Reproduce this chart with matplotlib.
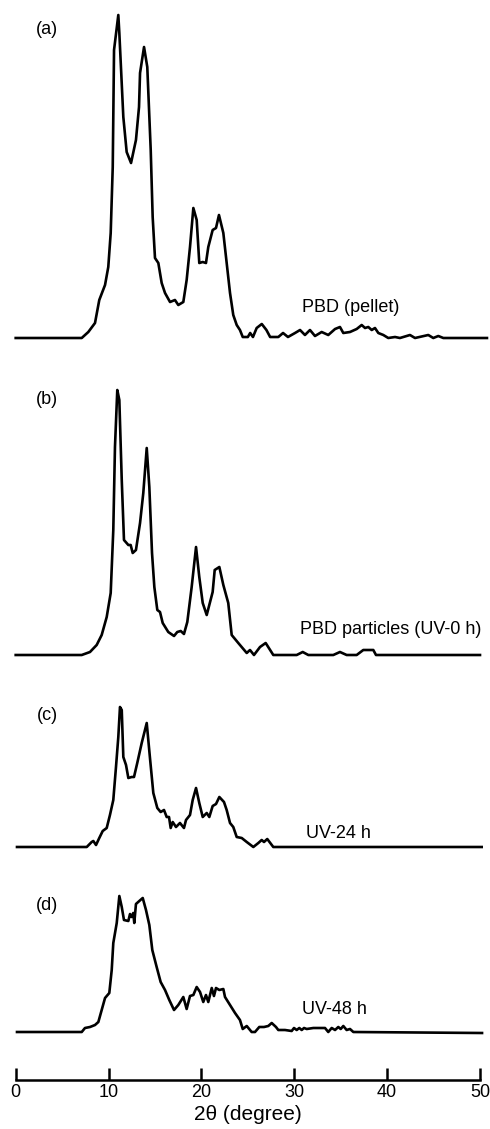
import matplotlib
matplotlib.use('Agg')
import matplotlib.pyplot as plt
import numpy as np

plt.rcParams['font.family'] = ['Liberation Sans', 'DejaVu Sans']

# XRD patterns, 2theta (degree) vs intensity (arbitrary units)
a_tt = [0.0, 7.11, 7.82, 8.54, 9.00, 9.62, 9.97, 10.23, 10.45, 10.59, 11.05, 11.16, 11.59, 11.95,
        12.42, 12.95, 13.28, 13.39, 13.82, 14.17, 14.54, 14.75, 15.00, 15.36, 15.72, 16.08, 16.62,
        17.15, 17.51, 18.05, 18.41, 18.77, 19.13, 19.49, 19.77, 20.14, 20.49, 20.74, 21.21, 21.57,
        21.89, 22.36, 22.72, 23.08, 23.43, 23.80, 24.15, 24.45, 25.00, 25.25, 25.55, 25.95, 26.50,
        27.00, 27.40, 28.28, 28.79, 29.32, 30.08, 30.62, 31.15, 31.69, 32.23, 32.95, 33.66, 34.39,
        34.92, 35.28, 36.00, 36.72, 37.26, 37.62, 37.97, 38.34, 38.69, 39.05, 39.59, 40.12, 40.85,
        41.38, 42.46, 43.00, 44.43, 44.97, 45.51, 46.05, 50.75]
a_int = [0, 0, 6, 15, 38, 53, 71, 105, 171, 288, 323, 305, 221, 186,
         175, 198, 231, 265, 291, 271, 188, 121, 80, 75, 55, 45, 36,
         38, 33, 36, 58, 91, 130, 118, 75, 76, 75, 91, 108, 110,
         123, 105, 75, 45, 23, 13, 8, 1, 1, 5, 1, 10, 14,
         8, 1, 1, 5, 1, 5, 8, 3, 8, 2, 6, 3, 9,
         11, 5, 6, 9, 13, 10, 11, 8, 10, 5, 3, 0, 1,
         0, 3, 0, 3, 0, 2, 0, 0]

b_tt = [0.0, 7.11, 8.00, 8.72, 9.26, 9.80, 10.23, 10.51, 10.69, 10.94, 11.16, 11.42, 11.66, 12.13,
        12.38, 12.60, 12.95, 13.39, 13.74, 14.11, 14.39, 14.68, 14.93, 15.25, 15.54, 15.83, 16.43,
        17.05, 17.40, 17.77, 18.12, 18.48, 18.95, 19.42, 19.77, 20.14, 20.57, 21.21, 21.43, 21.93,
        22.36, 22.89, 23.26, 23.97, 24.88, 25.23, 25.66, 26.31, 26.92, 27.74, 30.26, 30.91, 31.51,
        34.20, 34.92, 35.64, 36.72, 37.43, 38.51, 38.80, 50.0]
b_int = [0, 0, 3, 10, 20, 38, 62, 125, 208, 265, 255, 175, 115, 110,
         110, 102, 105, 132, 162, 207, 168, 102, 68, 45, 43, 32, 23,
         19, 23, 24, 21, 33, 68, 108, 78, 52, 40, 63, 85, 88,
         70, 52, 20, 12, 2, 5, 0, 8, 12, 0, 0, 3, 0,
         0, 3, 0, 0, 5, 5, 0, 0]

c_tt = [0.14, 7.65, 8.18, 8.36, 8.65, 9.00, 9.37, 9.80, 10.15, 10.51, 10.80, 11.05, 11.23, 11.42,
        11.59, 11.88, 12.13, 12.49, 12.74, 13.09, 13.57, 14.11, 14.46, 14.82, 15.25, 15.61, 15.97,
        16.26, 16.51, 16.69, 16.91, 17.26, 17.69, 18.12, 18.34, 18.77, 19.06, 19.42, 19.77, 20.14,
        20.57, 20.85, 21.21, 21.57, 21.93, 22.43, 22.72, 23.08, 23.43, 23.80, 24.34, 24.88, 25.59,
        26.13, 26.49, 26.74, 27.09, 27.74, 50.18]
c_int = [0, 0, 5, 6, 2, 9, 16, 19, 32, 47, 80, 110, 140, 137,
         90, 82, 69, 70, 70, 84, 104, 124, 89, 54, 39, 35, 37,
         30, 30, 19, 25, 20, 24, 19, 27, 32, 47, 59, 44, 30,
         34, 30, 41, 43, 50, 45, 37, 24, 20, 10, 9, 5, 0,
         4, 7, 5, 8, 0, 0]

d_tt = [0.14, 7.11, 7.46, 8.00, 8.54, 8.90, 9.26, 9.62, 10.08, 10.34, 10.51, 10.88, 11.16, 11.42,
        11.66, 12.13, 12.31, 12.49, 12.66, 12.77, 12.95, 13.31, 13.68, 14.03, 14.39, 14.71, 15.18,
        15.61, 16.08, 16.54, 17.05, 17.51, 18.05, 18.41, 18.77, 19.13, 19.49, 19.85, 20.20, 20.49,
        20.74, 21.11, 21.35, 21.57, 21.93, 22.36, 22.54, 23.08, 23.62, 24.15, 24.45, 24.88, 25.41,
        25.77, 26.23, 26.74, 27.20, 27.57, 28.03, 28.28, 29.00, 29.72, 29.97, 30.26, 30.54, 30.80,
        31.05, 31.34, 32.05, 33.31, 33.66, 34.03, 34.39, 34.74, 35.00, 35.28, 35.64, 36.00, 36.36,
        50.22]
d_int = [0, 0, 4, 5, 7, 10, 22, 34, 39, 62, 89, 109, 136, 125,
         112, 111, 118, 115, 119, 109, 128, 131, 134, 122, 107, 82, 65,
         50, 42, 32, 22, 27, 35, 23, 36, 37, 45, 40, 30, 37,
         30, 44, 36, 44, 42, 43, 35, 27, 19, 12, 3, 6, 0,
         0, 5, 5, 6, 9, 5, 2, 2, 1, 4, 2, 4, 2,
         4, 3, 4, 4, 0, 4, 2, 5, 3, 6, 2, 3, 0,
         -1]

panels = ['(a)', '(b)', '(c)', '(d)']
names = ['PBD (pellet)', 'PBD particles (UV-0 h)', 'UV-24 h', 'UV-48 h']
offsets = [741.5, 424.5, 232.5, 47.5]
panel_y = [1049.5, 679.5, 363.5, 173.5]
name_pos = [(30.8, 772.5), (30.6, 449.5), (31.26, 246.5), (30.83, 69.5)]

fig = plt.figure(figsize=(4.9, 11.29), dpi=100)
ax = fig.add_axes([15.7 / 490, 49.5 / 1129, (480 - 15.7) / 490, 1079.5 / 1129])

series = [(a_tt, a_int), (b_tt, b_int), (c_tt, c_int), (d_tt, d_int)]
for (tt, inten), off, lab, ly, nm, npos in zip(series, offsets, panels, panel_y, names, name_pos):
    ax.plot(tt, np.array(inten) + off, color='black', linewidth=1.9, clip_on=False,
            solid_joinstyle='round')
    ax.text(3.37, ly, lab, fontsize=13, ha='center', va='center')
    ax.text(npos[0], npos[1], nm, fontsize=13, ha='left', va='center')

ax.set_xlim(0, 50)
ax.set_ylim(0, 1079.5)
for s in ['left', 'right', 'top']:
    ax.spines[s].set_visible(False)
ax.spines['bottom'].set_linewidth(1.8)
ax.set_yticks([])
ax.set_xticks([0, 10, 20, 30, 40, 50])
ax.tick_params(axis='x', direction='in', length=9, width=1.8, labelsize=13, pad=3)
ax.set_xlabel('2θ (degree)', fontsize=15, labelpad=3)

fig.savefig('out.png', dpi=100)
